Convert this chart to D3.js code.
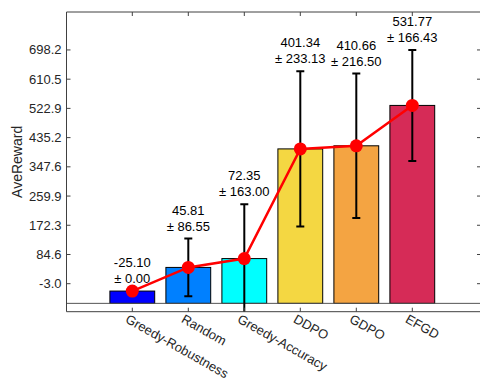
<!DOCTYPE html>
<html><head><meta charset="utf-8">
<script src="https://cdn.jsdelivr.net/npm/d3@7"></script>
<style>html,body{margin:0;padding:0;background:#fff;}</style>
</head><body>
<svg id="c" width="480" height="380"></svg>
<script>
const categories = ["Greedy-Robustness","Random","Greedy-Accuracy","DDPO","GDPO","EFGD"];
const means = [-25.10, 45.81, 72.35, 401.34, 410.66, 531.77];
const stds = [0.00, 86.55, 163.00, 233.13, 216.50, 166.43];
const colors = ["#0000ff","#0080ff","#00ffff","#f4d742","#f4a442","#d62b57"];
const yTicks = [-3.0, 84.6, 172.3, 259.9, 347.6, 435.2, 522.9, 610.5, 698.2];
const yDomain = [-87, 812];
const barBase = -62;

const L = 66.5, R = 481, T = 12, B = 311.7;
const svg = d3.select("#c");
const font = "Liberation Sans, Arial, Helvetica, sans-serif";
const axisCol = "#404040", textCol = "#262626";

const x = d3.scalePoint().domain(categories).range([132.3, 412.3]);
const step = 56;
const y = d3.scaleLinear().domain(yDomain).range([B, T]);

const clip = svg.append("defs").append("clipPath").attr("id","pc")
  .append("rect").attr("x",L).attr("y",T).attr("width",R-L).attr("height",B-T);
const g = svg.append("g").attr("clip-path","url(#pc)");

// bars
const bw = step*0.8;
g.selectAll("rect.bar").data(categories).join("rect")
  .attr("x", d => x(d)-bw/2)
  .attr("y", (d,i) => y(Math.max(means[i], barBase)))
  .attr("width", bw)
  .attr("height", (d,i) => Math.abs(y(barBase)-y(means[i])))
  .attr("fill", (d,i) => colors[i])
  .attr("stroke", "#000").attr("stroke-width", 1);

// baseline
g.append("line").attr("x1",L).attr("x2",R).attr("y1",y(barBase)).attr("y2",y(barBase))
  .attr("stroke","#555").attr("stroke-width",1);

// error bars
const eb = g.selectAll("g.eb").data(categories).join("g");
eb.append("line")
  .attr("x1", d=>x(d)).attr("x2", d=>x(d))
  .attr("y1", (d,i)=>y(means[i]-stds[i])).attr("y2", (d,i)=>y(means[i]+stds[i]))
  .attr("stroke","#000").attr("stroke-width",2);
[1,-1].forEach(s=>{
  eb.append("line")
    .attr("x1", d=>x(d)-4).attr("x2", d=>x(d)+4)
    .attr("y1", (d,i)=>y(means[i]+s*stds[i])).attr("y2", (d,i)=>y(means[i]+s*stds[i]))
    .attr("stroke","#000").attr("stroke-width",2);
});

// red line
const line = d3.line().x((d,i)=>x(categories[i])).y(d=>y(d));
g.append("path").datum(means).attr("d", line).attr("fill","none")
  .attr("stroke","#ff0000").attr("stroke-width",2.5);
g.selectAll("circle").data(means).join("circle")
  .attr("cx",(d,i)=>x(categories[i])).attr("cy",d=>y(d)).attr("r",6.5).attr("fill","#ff0000");

// data labels
categories.forEach((c,i)=>{
  const top = y(means[i]+stds[i]);
  svg.append("text").attr("x",x(c)).attr("y",top-24).attr("text-anchor","middle")
    .attr("font-family",font).attr("font-size",13).attr("fill","#000").text(means[i].toFixed(2));
  svg.append("text").attr("x",x(c)).attr("y",top-8).attr("text-anchor","middle")
    .attr("font-family",font).attr("font-size",13).attr("fill","#000").text("\u00b1 "+stds[i].toFixed(2));
});

// axes frame
const fr = svg.append("g").attr("stroke",axisCol).attr("stroke-width",1).attr("fill","none");
fr.append("line").attr("x1",L).attr("x2",R).attr("y1",T).attr("y2",T);
fr.append("line").attr("x1",L).attr("x2",R).attr("y1",B).attr("y2",B);
fr.append("line").attr("x1",L).attr("x2",L).attr("y1",T).attr("y2",B);
fr.append("line").attr("x1",R).attr("x2",R).attr("y1",T).attr("y2",B);
categories.forEach(c=>{
  fr.append("line").attr("x1",x(c)).attr("x2",x(c)).attr("y1",B).attr("y2",B-4);
  fr.append("line").attr("x1",x(c)).attr("x2",x(c)).attr("y1",T).attr("y2",T+4);
});
yTicks.forEach(v=>{
  fr.append("line").attr("x1",L).attr("x2",L+4).attr("y1",y(v)).attr("y2",y(v));
  fr.append("line").attr("x1",R).attr("x2",R-4).attr("y1",y(v)).attr("y2",y(v));
});

// y tick labels
svg.selectAll("text.yt").data(yTicks).join("text")
  .attr("x", L-5).attr("y", d=>y(d)).attr("dy","0.35em").attr("text-anchor","end")
  .attr("font-family",font).attr("font-size",13).attr("fill",textCol)
  .text(d=>d.toFixed(1));

// x tick labels
svg.selectAll("text.xt").data(categories).join("text")
  .attr("transform", d=>`translate(${x(d)-3},${B+1.5}) rotate(29.5)`)
  .attr("dy","0.75em").attr("text-anchor","start")
  .attr("font-family",font).attr("font-size",13).attr("fill",textCol)
  .text(d=>d);

// y label
svg.append("text").attr("transform",`translate(22,${(T+B)/2}) rotate(-90)`)
  .attr("text-anchor","middle").attr("font-family",font).attr("font-size",14).attr("fill",textCol)
  .text("AveReward");
</script>
</body></html>
